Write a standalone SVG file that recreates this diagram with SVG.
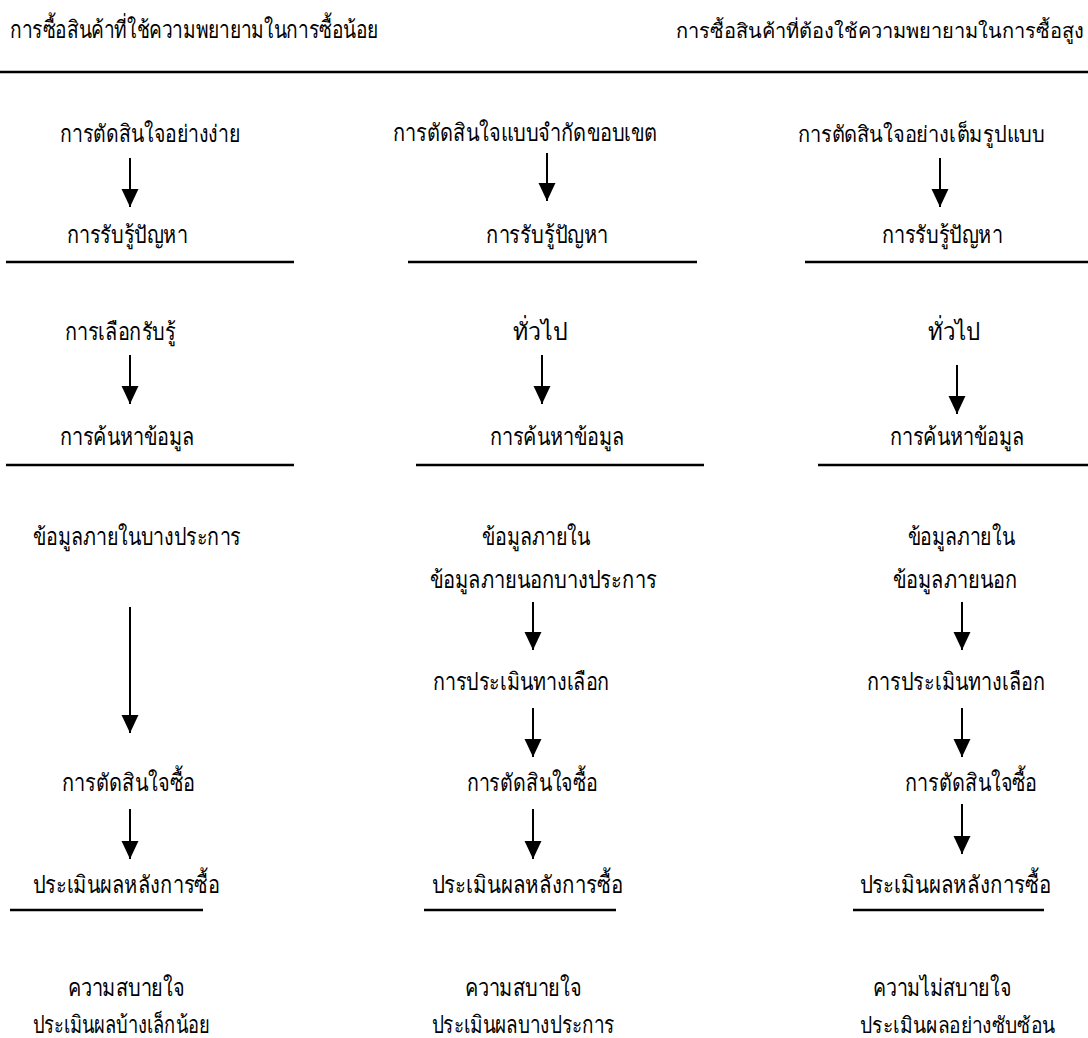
<svg xmlns="http://www.w3.org/2000/svg" width="1088" height="1038" viewBox="0 0 1088 1038">
<style>
text{font-family:"Liberation Serif","DejaVu Serif","Noto Sans",serif;font-size:24px;fill:#000;text-anchor:middle}
text.r{text-anchor:end;font-size:22px}
text.t{font-size:20px}
.rule{stroke:#000;stroke-width:2.5}
.arr{stroke:#000;stroke-width:2;fill:none}
</style>
<defs>
<marker id="ah" markerUnits="userSpaceOnUse" markerWidth="18" markerHeight="18" refX="17" refY="8" orient="auto" viewBox="0 0 17 16">
<path d="M0,0 L17,8 L0,16 Z" fill="#000"/>
</marker>
</defs>
<rect width="1088" height="1038" fill="#fff"/>
<g id="headers">
<text x="194" y="38" textLength="368" lengthAdjust="spacingAndGlyphs">การซื้อสินค้าที่ใช้ความพยายามในการซื้อน้อย</text>
<text class="r t" x="1084" y="38" textLength="408" lengthAdjust="spacingAndGlyphs">การซื้อสินค้าที่ต้องใช้ความพยายามในการซื้อสูง</text>
<line class="rule" x1="0" y1="72" x2="1088" y2="72"/>
</g>
<g id="col1">
<text x="150" y="142" textLength="180" lengthAdjust="spacingAndGlyphs">การตัดสินใจอย่างง่าย</text>
<text x="127" y="243" textLength="121" lengthAdjust="spacingAndGlyphs">การรับรู้ปัญหา</text>
<line class="rule" x1="6" y1="262" x2="294" y2="262"/>
<text x="120" y="340" textLength="111" lengthAdjust="spacingAndGlyphs">การเลือกรับรู้</text>
<text x="127" y="445" textLength="135" lengthAdjust="spacingAndGlyphs">การค้นหาข้อมูล</text>
<line class="rule" x1="6" y1="465" x2="294" y2="465"/>
<text x="137" y="545" textLength="208" lengthAdjust="spacingAndGlyphs">ข้อมูลภายในบางประการ</text>
<text x="128" y="791" textLength="133" lengthAdjust="spacingAndGlyphs">การตัดสินใจซื้อ</text>
<text x="126" y="893" textLength="187" lengthAdjust="spacingAndGlyphs">ประเมินผลหลังการซื้อ</text>
<line class="rule" x1="10" y1="910" x2="203" y2="910"/>
<text x="126" y="996" textLength="117" lengthAdjust="spacingAndGlyphs">ความสบายใจ</text>
<text x="121" y="1033" textLength="177" lengthAdjust="spacingAndGlyphs">ประเมินผลบ้างเล็กน้อย</text>
</g>
<g id="col2">
<text x="525" y="141" textLength="265" lengthAdjust="spacingAndGlyphs">การตัดสินใจแบบจำกัดขอบเขต</text>
<text x="547" y="243" textLength="122" lengthAdjust="spacingAndGlyphs">การรับรู้ปัญหา</text>
<line class="rule" x1="408" y1="262" x2="697" y2="262"/>
<text x="540" y="340" textLength="54" lengthAdjust="spacingAndGlyphs">ทั่วไป</text>
<text x="557" y="445" textLength="135" lengthAdjust="spacingAndGlyphs">การค้นหาข้อมูล</text>
<line class="rule" x1="416" y1="465" x2="704" y2="465"/>
<text x="536" y="545" textLength="108" lengthAdjust="spacingAndGlyphs">ข้อมูลภายใน</text>
<text x="543" y="588" textLength="227" lengthAdjust="spacingAndGlyphs">ข้อมูลภายนอกบางประการ</text>
<text x="521" y="690" textLength="177" lengthAdjust="spacingAndGlyphs">การประเมินทางเลือก</text>
<text x="532" y="791" textLength="131" lengthAdjust="spacingAndGlyphs">การตัดสินใจซื้อ</text>
<text x="527" y="893" textLength="191" lengthAdjust="spacingAndGlyphs">ประเมินผลหลังการซื้อ</text>
<line class="rule" x1="424" y1="910" x2="616" y2="910"/>
<text x="523" y="996" textLength="117" lengthAdjust="spacingAndGlyphs">ความสบายใจ</text>
<text x="523" y="1033" textLength="183" lengthAdjust="spacingAndGlyphs">ประเมินผลบางประการ</text>
</g>
<g id="col3">
<text class="r" x="1045" y="142" textLength="247" lengthAdjust="spacingAndGlyphs">การตัดสินใจอย่างเต็มรูปแบบ</text>
<text x="942" y="243" textLength="121" lengthAdjust="spacingAndGlyphs">การรับรู้ปัญหา</text>
<line class="rule" x1="805" y1="262" x2="1088" y2="262"/>
<text x="954" y="340" textLength="52" lengthAdjust="spacingAndGlyphs">ทั่วไป</text>
<text x="957" y="445" textLength="135" lengthAdjust="spacingAndGlyphs">การค้นหาข้อมูล</text>
<line class="rule" x1="818" y1="465" x2="1088" y2="465"/>
<text x="961" y="545" textLength="107" lengthAdjust="spacingAndGlyphs">ข้อมูลภายใน</text>
<text x="955" y="588" textLength="124" lengthAdjust="spacingAndGlyphs">ข้อมูลภายนอก</text>
<text x="956" y="690" textLength="178" lengthAdjust="spacingAndGlyphs">การประเมินทางเลือก</text>
<text x="971" y="791" textLength="132" lengthAdjust="spacingAndGlyphs">การตัดสินใจซื้อ</text>
<text x="955" y="893" textLength="191" lengthAdjust="spacingAndGlyphs">ประเมินผลหลังการซื้อ</text>
<line class="rule" x1="853" y1="910" x2="1044" y2="910"/>
<text x="942" y="996" textLength="138" lengthAdjust="spacingAndGlyphs">ความไม่สบายใจ</text>
<text class="r" x="1055" y="1033" textLength="195" lengthAdjust="spacingAndGlyphs">ประเมินผลอย่างซับซ้อน</text>
</g>
<g id="connectors">
<line class="arr" x1="130" y1="158" x2="130" y2="207" marker-end="url(#ah)"/>
<line class="arr" x1="130" y1="355" x2="130" y2="404" marker-end="url(#ah)"/>
<line class="arr" x1="130" y1="607" x2="130" y2="733" marker-end="url(#ah)"/>
<line class="arr" x1="130" y1="809" x2="130" y2="859" marker-end="url(#ah)"/>
<line class="arr" x1="547" y1="153" x2="547" y2="201" marker-end="url(#ah)"/>
<line class="arr" x1="542" y1="355" x2="542" y2="404" marker-end="url(#ah)"/>
<line class="arr" x1="533" y1="602" x2="533" y2="650" marker-end="url(#ah)"/>
<line class="arr" x1="533" y1="708" x2="533" y2="757" marker-end="url(#ah)"/>
<line class="arr" x1="533" y1="809" x2="533" y2="859" marker-end="url(#ah)"/>
<line class="arr" x1="940" y1="158" x2="940" y2="207" marker-end="url(#ah)"/>
<line class="arr" x1="957" y1="365" x2="957" y2="414" marker-end="url(#ah)"/>
<line class="arr" x1="962" y1="602" x2="962" y2="650" marker-end="url(#ah)"/>
<line class="arr" x1="962" y1="708" x2="962" y2="757" marker-end="url(#ah)"/>
<line class="arr" x1="962" y1="804" x2="962" y2="854" marker-end="url(#ah)"/>
</g>
</svg>
